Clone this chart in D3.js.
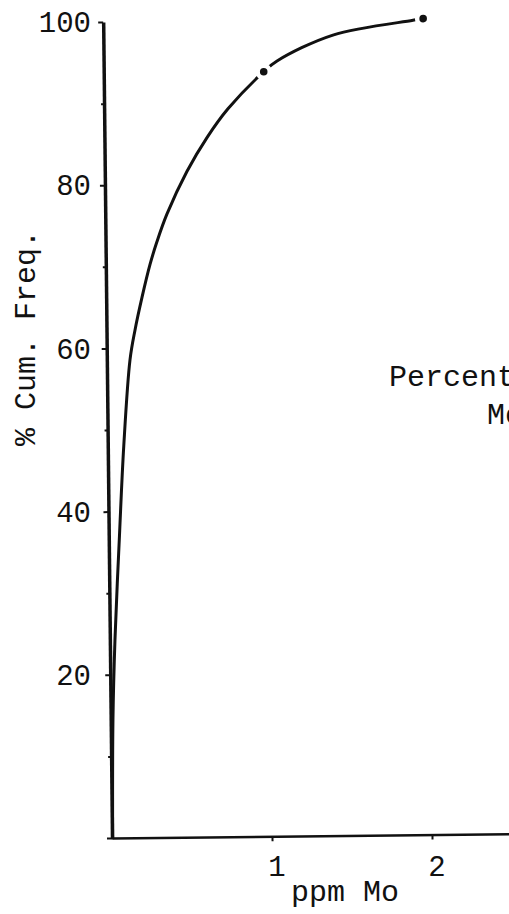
<!DOCTYPE html>
<html>
<head>
<meta charset="utf-8">
<script src="https://cdn.jsdelivr.net/npm/d3@7/dist/d3.min.js"></script>
<style>
  html, body { margin: 0; padding: 0; background: #fff; }
  svg { display: block; }
  text { font-family: "Liberation Mono", "DejaVu Sans Mono", monospace; fill: #111; }
</style>
</head>
<body>
<script>
// Cumulative frequency curve of Mo (ppm)
const ppm = [0.004, 0.014, 0.032, 0.067, 0.10, 0.145, 0.178, 0.224, 0.276, 0.321,
             0.386, 0.514, 0.641, 0.774, 1.0, 1.084, 1.435, 1.936, 2.0];
const cumFreq = [0, 14.5, 24.3, 37.0, 48.0, 58.6, 62.2, 66.2, 70.2, 73.0,
                 76.4, 81.6, 85.7, 89.2, 93.7, 95.0, 98.1, 99.8, 100];

// Marked points on the curve
const markPpm = [1, 2];
const markFreq = [93.7, 100];

const xTicks = [1, 2];
const xTickLabels = ["1", "2"];
const yTicks = [0, 10, 20, 30, 40, 50, 60, 70, 80, 90, 100];
const yTickLabels = [20, 40, 60, 80, 100];

const W = 509, H = 914;
const x0 = 112, yBase = 838;

const svg = d3.select("body").append("svg")
  .attr("width", W).attr("height", H)
  .attr("viewBox", `0 0 ${W} ${H}`);

svg.append("rect").attr("width", W).attr("height", H).attr("fill", "#fff");

const x = d3.scaleLinear().domain([0, 2.6]).range([x0, x0 + 2.6 * 160]);
const y = d3.scaleLinear().domain([0, 100]).range([yBase, 22]);

// The hand-ruled frame leans slightly to the left
const plot = svg.append("g")
  .attr("transform", `rotate(-0.62, ${x0}, ${yBase})`);

// y axis
const gy = plot.append("g")
  .attr("transform", `translate(${x0},0)`)
  .call(d3.axisLeft(y).tickValues(yTicks).tickSize(4).tickSizeOuter(0).tickFormat(""));
gy.select(".domain").attr("stroke", "#111").attr("stroke-width", 3.5);
gy.selectAll(".tick line").attr("stroke", "#111").attr("stroke-width", 2)
  .attr("x2", d => (d % 20 === 0 ? -5 : -3));

// x axis
const gx = plot.append("g")
  .attr("transform", `translate(0,${yBase})`)
  .call(d3.axisBottom(x).tickValues(xTicks).tickSize(5).tickSizeOuter(0).tickFormat(""));
gx.select(".domain").attr("stroke", "#111").attr("stroke-width", 2.6);
gx.selectAll(".tick line").attr("stroke", "#111").attr("stroke-width", 2);

// curve
const pts = ppm.map((p, i) => [p, cumFreq[i]]);
plot.append("path")
  .datum(pts)
  .attr("fill", "none")
  .attr("stroke", "#111")
  .attr("stroke-width", 3)
  .attr("stroke-linecap", "round")
  .attr("stroke-linejoin", "round")
  .attr("d", d3.line().x(d => x(d[0])).y(d => y(d[1])).curve(d3.curveCatmullRom.alpha(0.5)));

// marked points, each with a small clear gap around it
plot.selectAll("circle.mark")
  .data(markPpm.map((p, i) => [p, markFreq[i]]))
  .join("circle")
  .attr("class", "mark")
  .attr("cx", d => x(d[0]))
  .attr("cy", d => y(d[1]))
  .attr("r", 3.8)
  .attr("fill", "#111")
  .attr("stroke", "#fff")
  .attr("stroke-width", 9)
  .attr("paint-order", "stroke");

// tick labels (typed upright)
svg.append("g").selectAll("text")
  .data(yTickLabels)
  .join("text")
  .attr("x", 91)
  .attr("y", d => y(d))
  .attr("dy", "0.35em")
  .attr("text-anchor", "end")
  .attr("font-size", 29)
  .text(d => d);

svg.append("g").selectAll("text")
  .data(xTicks)
  .join("text")
  .attr("x", d => x(d) + 5)
  .attr("y", yBase + 38)
  .attr("text-anchor", "middle")
  .attr("font-size", 29)
  .text((d, i) => xTickLabels[i]);

// axis titles
svg.append("text")
  .attr("x", 345).attr("y", 901)
  .attr("text-anchor", "middle")
  .attr("font-size", 30)
  .text("ppm Mo");

svg.append("text")
  .attr("transform", "translate(35,338) rotate(-90)")
  .attr("text-anchor", "middle")
  .attr("font-size", 30)
  .text("% Cum. Freq.");

// panel caption
svg.append("text")
  .attr("x", 389).attr("y", 386)
  .attr("font-size", 30)
  .text("Percent");
svg.append("text")
  .attr("x", 487).attr("y", 424)
  .attr("font-size", 30)
  .text("Mo");
</script>
</body>
</html>
